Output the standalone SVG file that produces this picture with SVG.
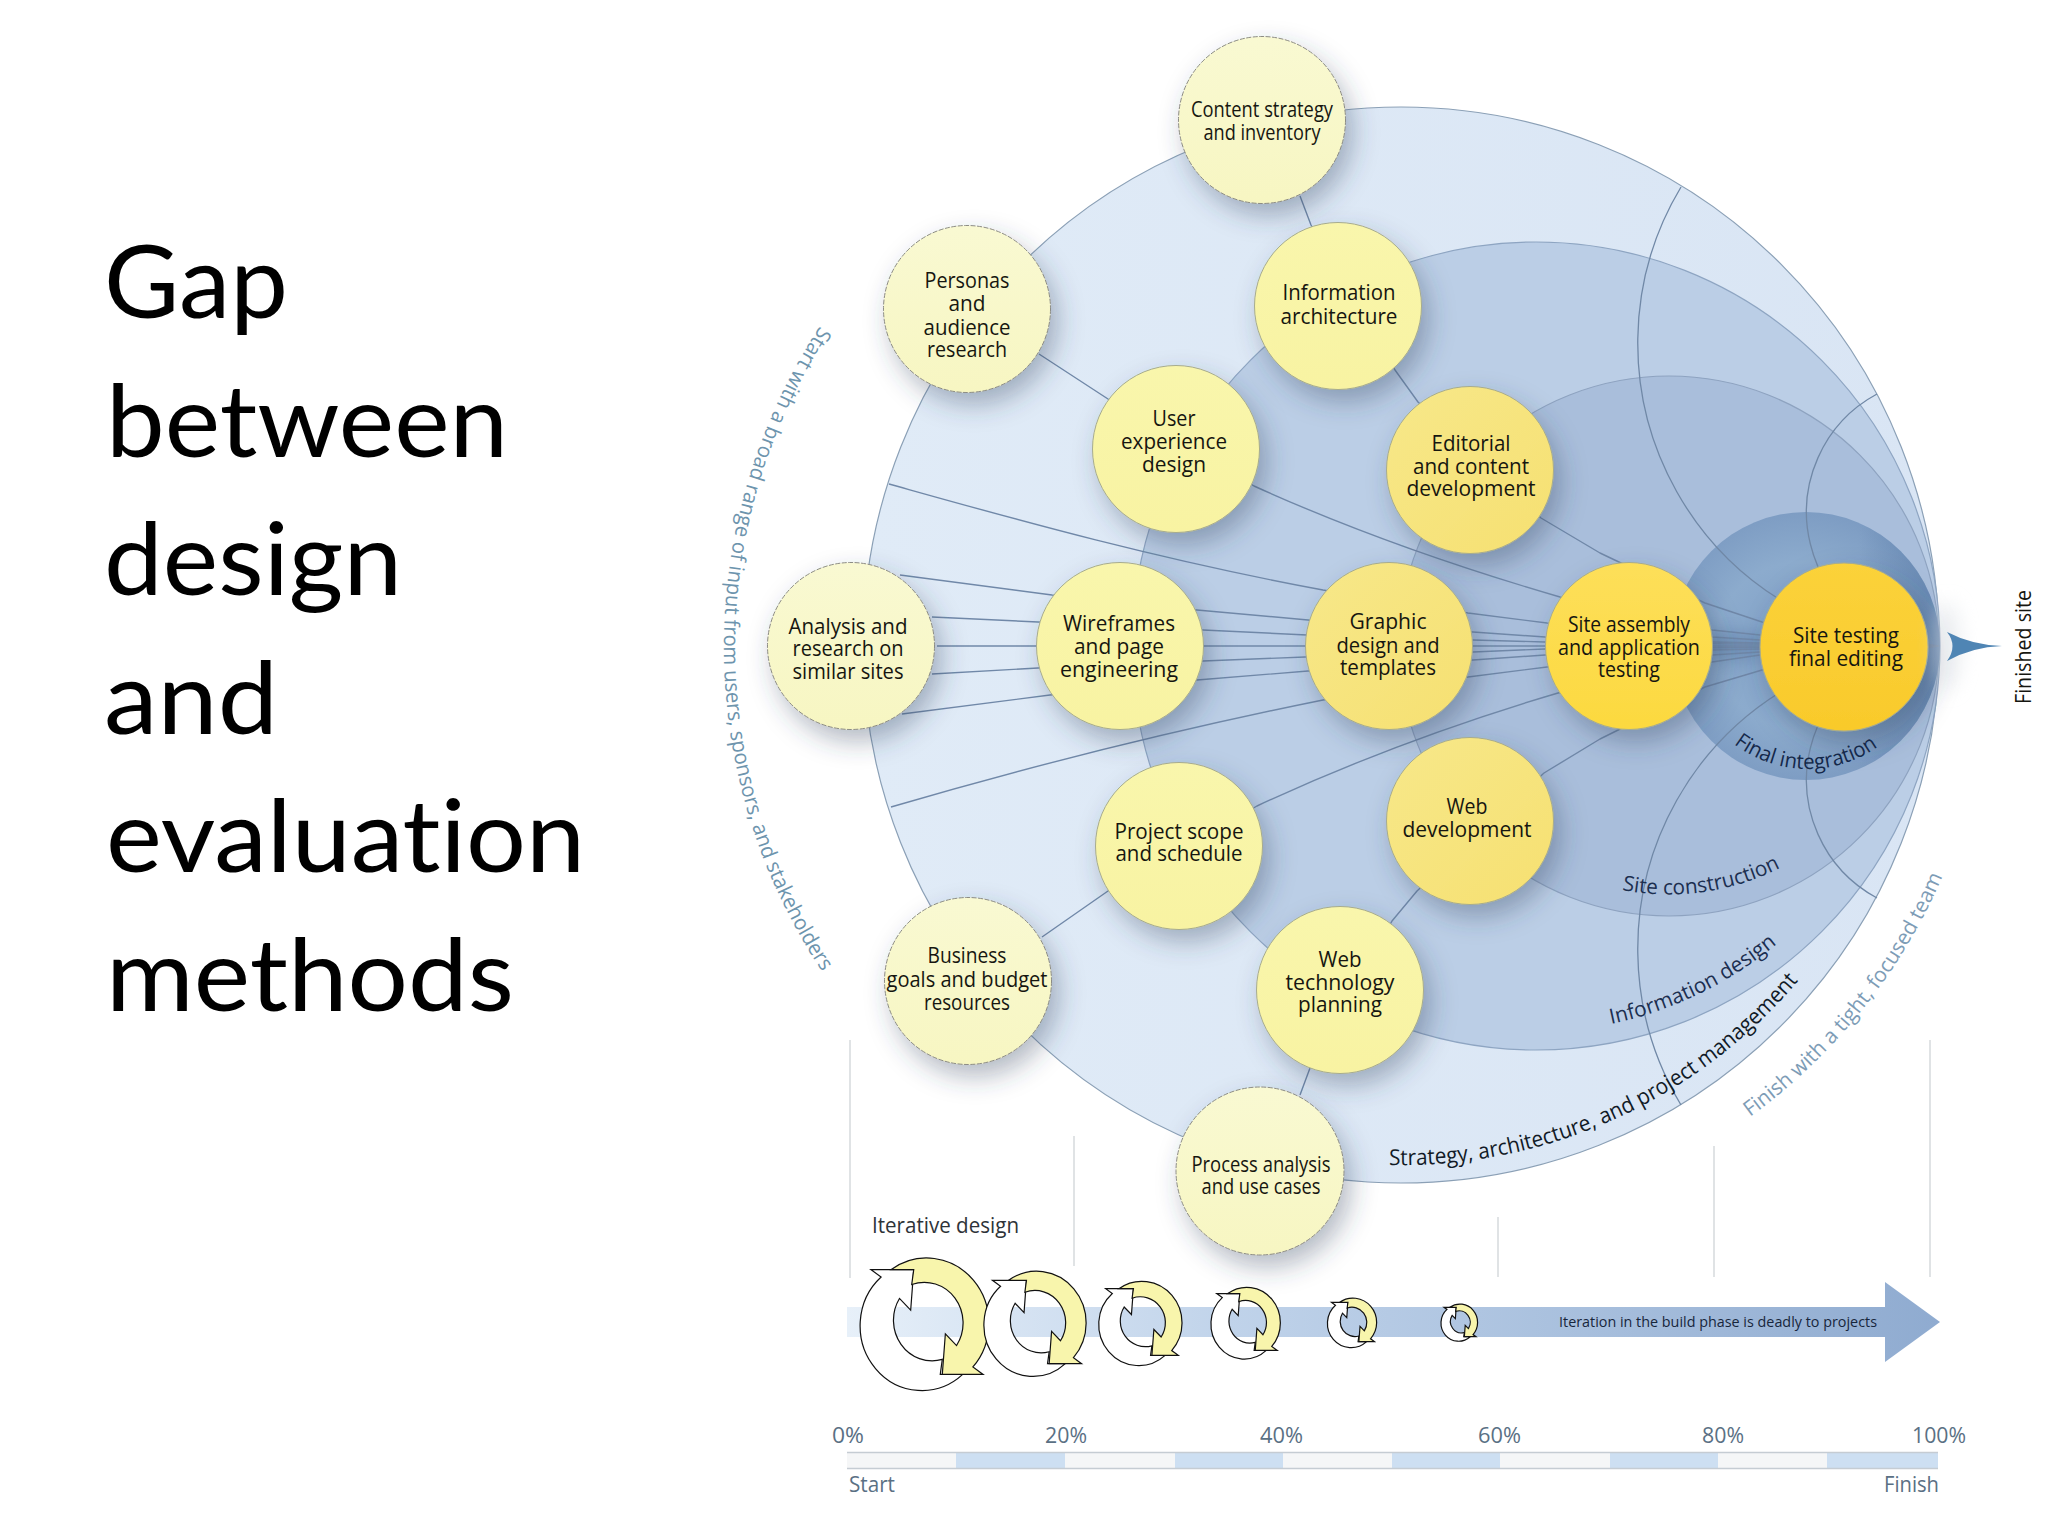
<svg xmlns="http://www.w3.org/2000/svg" width="2048" height="1536" viewBox="0 0 2048 1536">
<style>
.t{font-family:"Lato","Open Sans",sans-serif;font-size:101px;fill:#000;font-variant-ligatures:none}
.n{font-family:"Open Sans","Liberation Sans",sans-serif;font-size:21px;fill:#161610;text-anchor:middle}
.c{font-family:"Open Sans","Liberation Sans",sans-serif;font-size:21px}
.l{font-family:"Open Sans","Liberation Sans",sans-serif;font-size:21px;fill:#5a7084}
.nc{filter:url(#sh);stroke:#a6ab8e;stroke-width:1}
.o{fill:url(#g1);stroke-dasharray:5 1.5;stroke:#8c8c84}
.m{fill:url(#g2)}
.d{fill:url(#g3)}
.link{fill:none;stroke:#7088a8;stroke-width:1.4;stroke-linejoin:round}
.arc{fill:none;stroke:#7088a6;stroke-width:1.3}
.v{stroke:#d6dadd;stroke-width:1.5}
.ya{fill:#f8f5ac;stroke:#111;stroke-width:1.2;vector-effect:non-scaling-stroke}
.wa{fill:#fff;stroke:#111;stroke-width:1.2;vector-effect:non-scaling-stroke}
</style>
<defs>
<filter id="sh" x="-40%" y="-40%" width="190%" height="190%"><feDropShadow dx="7" dy="12" stdDeviation="13" flood-color="#33415e" flood-opacity=".36"/></filter>
<filter id="glow" x="-60%" y="-60%" width="220%" height="220%"><feGaussianBlur stdDeviation="9"/></filter>
<clipPath id="finalclip"><circle cx="1806" cy="646" r="134"/></clipPath>
<linearGradient id="g1" x1="0" y1="0" x2="0" y2="1"><stop offset="0" stop-color="#f9f9d2"/><stop offset="1" stop-color="#f7f6c2"/></linearGradient>
<linearGradient id="g2" x1="0" y1="0" x2="0" y2="1"><stop offset="0" stop-color="#f9f6ac"/><stop offset="1" stop-color="#f8f3a2"/></linearGradient>
<linearGradient id="g3" x1="0" y1="0" x2="1" y2="1"><stop offset="0" stop-color="#f7e88a"/><stop offset="1" stop-color="#f6e071"/></linearGradient>
<linearGradient id="g4" x1="0" y1="0" x2="0" y2="1"><stop offset="0" stop-color="#fddf5a"/><stop offset="1" stop-color="#fcd93f"/></linearGradient>
<linearGradient id="g5" x1="0" y1="0" x2="0" y2="1"><stop offset="0" stop-color="#fbd23a"/><stop offset="1" stop-color="#f9ca2b"/></linearGradient>
<linearGradient id="disk" x1="0" y1="0" x2="1" y2="0"><stop offset="0" stop-color="#e0ebf7"/><stop offset="1" stop-color="#d9e5f4"/></linearGradient>
<radialGradient id="finalg" gradientUnits="userSpaceOnUse" cx="1800" cy="646" r="140"><stop offset="0" stop-color="#7f9fc6"/><stop offset=".6" stop-color="#8cabcd"/><stop offset="1" stop-color="#7c9bc2"/></radialGradient>
<linearGradient id="tip" gradientUnits="userSpaceOnUse" x1="1860" y1="0" x2="1940" y2="0"><stop offset="0" stop-color="#5d80aa" stop-opacity="0"/><stop offset="1" stop-color="#5d80aa" stop-opacity=".7"/></linearGradient>
<linearGradient id="bar" x1="0" y1="0" x2="1" y2="0"><stop offset="0" stop-color="#e7f0f9"/><stop offset=".35" stop-color="#c0d3ea"/><stop offset="1" stop-color="#8fabd0"/></linearGradient>
<g id="loop"><path class="wa" d="M-55,-49 L-13,-49 L-16,-11 L-27,-22 A38,38 0 0 0 15,35 L13,49 L35,49 A60,60 0 0 1 -45,-42 Z"/><path class="ya" d="M55,49 L15,49 L18,11 L29,22 A38,38 0 0 0 -15,-35 L-13,-49 L-35,-49 A61,61 0 0 1 45,42 Z"/></g>
</defs>
<rect width="2048" height="1536" fill="#fff"/>
<g id="title">
<text class="t" x="104" y="318" textLength="184" lengthAdjust="spacingAndGlyphs">Gap</text>
<text class="t" x="106" y="457" textLength="402" lengthAdjust="spacingAndGlyphs">between</text>
<text class="t" x="104" y="595" textLength="298" lengthAdjust="spacingAndGlyphs">design</text>
<text class="t" x="104" y="734" textLength="174" lengthAdjust="spacingAndGlyphs">and</text>
<text class="t" x="106" y="872" textLength="479" lengthAdjust="spacingAndGlyphs">evaluation</text>
<text class="t" x="106" y="1011" textLength="408" lengthAdjust="spacingAndGlyphs">methods</text>
</g>
<g id="phases">
<circle cx="1401" cy="645" r="538" fill="url(#disk)" stroke="#8ba0b6" stroke-width="1.2"/>
<circle cx="1536" cy="646" r="404" fill="#bbcee6" stroke="#8ea5c2" stroke-width="1.2"/>
<circle cx="1669" cy="646" r="270" fill="#a9bedb" stroke="#8ea3c0" stroke-width="1.2"/>
<circle cx="1806" cy="646" r="134" fill="url(#finalg)"/>
<rect x="1860" y="512" width="80" height="268" fill="url(#tip)" clip-path="url(#finalclip)"/>
<ellipse cx="1736" cy="646" rx="42" ry="13" fill="#5e80a8" opacity=".6" filter="url(#glow)"/>
</g>
<g id="arcs">
<path class="arc" d="M1681,187 A303,303 0 0 0 1939,646"/>
<path class="arc" d="M1681,1105 A303,303 0 0 1 1939,646"/>
<path class="arc" d="M1877,394 A134,134 0 0 0 1939,646"/>
<path class="arc" d="M1877,898 A134,134 0 0 1 1939,646"/>
</g>
<g id="connectors">
<path class="link" d="M1300,196 L1311,225 L1395,370 L1418,402 L1541,518 L1600,553 L1705,603 L1762,622 L1939,646"/>
<path class="link" d="M1039,354 L1108,399 L1254,486 C1340,525 1450,565 1560,597 L1712,630 L1760,635 L1939,646"/>
<path class="link" d="M889,484 C1000,515 1150,558 1323,590 L1468,613 L1547,623 L1712,637 L1760,640 L1939,646"/>
<path class="link" d="M900,575 L1052,595 L1197,610 L1308,620 L1473,632 L1545,637 L1712,642 L1760,643 L1939,646"/>
<path class="link" d="M932,617 L1038,622 L1203,630 L1307,635 L1473,640 L1545,642 L1939,646"/>
<path class="link" d="M937,646 L1939,646"/>
<path class="link" d="M932,674 L1038,668 L1203,661 L1305,657 L1473,652 L1545,649 L1939,646"/>
<path class="link" d="M902,714 L1050,695 L1197,680 L1308,671 L1473,660 L1545,655 L1712,650 L1760,649 L1939,646"/>
<path class="link" d="M891,807 C1000,775 1150,735 1323,700 L1468,677 L1547,667 L1712,655 L1760,652 L1939,646"/>
<path class="link" d="M1042,937 L1108,891 L1257,806 C1345,765 1450,725 1558,693 L1712,662 L1760,655 L1939,646"/>
<path class="link" d="M1300,1095 L1310,1068 L1392,921 L1417,891 L1544,773 L1600,739 L1705,687 L1762,670 L1939,646"/>
</g>
<g id="content-strategy"><circle class="nc o" cx="1262" cy="120" r="83.5"/><text class="n" x="1262" y="117" textLength="142" lengthAdjust="spacingAndGlyphs">Content strategy</text><text class="n" x="1262" y="140" textLength="117" lengthAdjust="spacingAndGlyphs">and inventory</text></g>
<g id="personas"><circle class="nc o" cx="967" cy="309" r="83.5"/><text class="n" x="967" y="288" textLength="85" lengthAdjust="spacingAndGlyphs">Personas</text><text class="n" x="967" y="311" textLength="37" lengthAdjust="spacingAndGlyphs">and</text><text class="n" x="967" y="335" textLength="87" lengthAdjust="spacingAndGlyphs">audience</text><text class="n" x="967" y="357" textLength="80" lengthAdjust="spacingAndGlyphs">research</text></g>
<g id="information-architecture"><circle class="nc m" cx="1338" cy="306" r="83.5"/><text class="n" x="1339" y="300" textLength="113" lengthAdjust="spacingAndGlyphs">Information</text><text class="n" x="1339" y="324" textLength="117" lengthAdjust="spacingAndGlyphs">architecture</text></g>
<g id="user-experience"><circle class="nc m" cx="1176" cy="449" r="83.5"/><text class="n" x="1174" y="426" textLength="43" lengthAdjust="spacingAndGlyphs">User</text><text class="n" x="1174" y="449" textLength="106" lengthAdjust="spacingAndGlyphs">experience</text><text class="n" x="1174" y="472" textLength="64" lengthAdjust="spacingAndGlyphs">design</text></g>
<g id="editorial"><circle class="nc d" cx="1470" cy="470" r="83.5"/><text class="n" x="1471" y="451" textLength="79" lengthAdjust="spacingAndGlyphs">Editorial</text><text class="n" x="1471" y="474" textLength="116" lengthAdjust="spacingAndGlyphs">and content</text><text class="n" x="1471" y="496" textLength="129" lengthAdjust="spacingAndGlyphs">development</text></g>
<g id="analysis"><circle class="nc o" cx="851" cy="646" r="83.5"/><text class="n" x="848" y="634" textLength="119" lengthAdjust="spacingAndGlyphs">Analysis and</text><text class="n" x="848" y="656" textLength="111" lengthAdjust="spacingAndGlyphs">research on</text><text class="n" x="848" y="679" textLength="111" lengthAdjust="spacingAndGlyphs">similar sites</text></g>
<g id="wireframes"><circle class="nc m" cx="1120" cy="646" r="83.5"/><text class="n" x="1119" y="631" textLength="112" lengthAdjust="spacingAndGlyphs">Wireframes</text><text class="n" x="1119" y="654" textLength="90" lengthAdjust="spacingAndGlyphs">and page</text><text class="n" x="1119" y="677" textLength="118" lengthAdjust="spacingAndGlyphs">engineering</text></g>
<g id="graphic-design"><circle class="nc d" cx="1389" cy="646" r="83.5"/><text class="n" x="1388" y="629" textLength="77" lengthAdjust="spacingAndGlyphs">Graphic</text><text class="n" x="1388" y="653" textLength="103" lengthAdjust="spacingAndGlyphs">design and</text><text class="n" x="1388" y="675" textLength="96" lengthAdjust="spacingAndGlyphs">templates</text></g>
<g id="site-assembly"><circle class="nc" fill="url(#g4)" cx="1629" cy="646" r="83.5"/><text class="n" x="1629" y="632" textLength="122" lengthAdjust="spacingAndGlyphs">Site assembly</text><text class="n" x="1629" y="655" textLength="142" lengthAdjust="spacingAndGlyphs">and application</text><text class="n" x="1629" y="677" textLength="62" lengthAdjust="spacingAndGlyphs">testing</text></g>
<g id="site-testing"><circle class="nc" fill="url(#g5)" cx="1844" cy="647" r="84"/><text class="n" x="1846" y="643" textLength="106" lengthAdjust="spacingAndGlyphs">Site testing</text><text class="n" x="1846" y="666" textLength="114" lengthAdjust="spacingAndGlyphs">final editing</text></g>
<g id="project-scope"><circle class="nc m" cx="1179" cy="846" r="83.5"/><text class="n" x="1179" y="839" textLength="129" lengthAdjust="spacingAndGlyphs">Project scope</text><text class="n" x="1179" y="861" textLength="127" lengthAdjust="spacingAndGlyphs">and schedule</text></g>
<g id="web-development"><circle class="nc d" cx="1470" cy="821" r="83.5"/><text class="n" x="1467" y="814" textLength="41" lengthAdjust="spacingAndGlyphs">Web</text><text class="n" x="1467" y="837" textLength="129" lengthAdjust="spacingAndGlyphs">development</text></g>
<g id="business-goals"><circle class="nc o" cx="968" cy="981" r="83.5"/><text class="n" x="967" y="963" textLength="79" lengthAdjust="spacingAndGlyphs">Business</text><text class="n" x="967" y="987" textLength="161" lengthAdjust="spacingAndGlyphs">goals and budget</text><text class="n" x="967" y="1010" textLength="86" lengthAdjust="spacingAndGlyphs">resources</text></g>
<g id="web-technology"><circle class="nc m" cx="1340" cy="990" r="83.5"/><text class="n" x="1340" y="967" textLength="43" lengthAdjust="spacingAndGlyphs">Web</text><text class="n" x="1340" y="990" textLength="109" lengthAdjust="spacingAndGlyphs">technology</text><text class="n" x="1340" y="1012" textLength="84" lengthAdjust="spacingAndGlyphs">planning</text></g>
<g id="process-analysis"><circle class="nc o" cx="1260" cy="1171" r="84"/><text class="n" x="1261" y="1172" textLength="139" lengthAdjust="spacingAndGlyphs">Process analysis</text><text class="n" x="1261" y="1194" textLength="119" lengthAdjust="spacingAndGlyphs">and use cases</text></g>
<g id="curved-labels">
<path id="p1" d="M820,326 A585,585 0 0 0 832,986" fill="none"/>
<path id="p2" d="M1750,1117 A586,586 0 0 0 1947,866" fill="none"/>
<path id="p3" d="M1389,1165 A520,520 0 0 0 1803,975" fill="none"/>
<path id="p4" d="M1611,1024 A385,385 0 0 0 1778,943" fill="none"/>
<path id="p5" d="M1622,890 A248,248 0 0 0 1784,866" fill="none"/>
<path id="p6" d="M1734,744 A121,121 0 0 0 1884,742" fill="none"/>
<text class="c" fill="#6d94ad"><textPath href="#p1" textLength="684" lengthAdjust="spacingAndGlyphs">Start with a broad range of input from users, sponsors, and stakeholders</textPath></text>
<text class="c" fill="#7d9cb6"><textPath href="#p2" textLength="312" lengthAdjust="spacingAndGlyphs">Finish with a tight, focused team</textPath></text>
<text class="c" fill="#111a26" style="font-size:22px"><textPath href="#p3" textLength="464" lengthAdjust="spacingAndGlyphs">Strategy, architecture, and project management</textPath></text>
<text class="c" fill="#1c2f50"><textPath href="#p4" textLength="186" lengthAdjust="spacingAndGlyphs">Information design</textPath></text>
<text class="c" fill="#1c2f50"><textPath href="#p5" textLength="163" lengthAdjust="spacingAndGlyphs">Site construction</textPath></text>
<text class="c" fill="#14284a"><textPath href="#p6" textLength="154" lengthAdjust="spacingAndGlyphs">Final integration</textPath></text>
</g>
<g id="finished">
<ellipse cx="1948" cy="646" rx="14" ry="45" fill="#dfe3e8" opacity=".5" filter="url(#glow)"/>
<path d="M1947,632 Q1972,645 2002,646 Q1972,647 1947,661 Q1958,646 1947,632 Z" fill="#4f85b4"/>
<text class="n" transform="translate(2031,647) rotate(-90)" x="0" y="0" textLength="114" lengthAdjust="spacingAndGlyphs">Finished site</text>
</g>
<g id="timeline-guides">
<line class="v" x1="850" y1="1040" x2="850" y2="1278"/>
<line class="v" x1="1074" y1="1136" x2="1074" y2="1266"/>
<line class="v" x1="1498" y1="1217" x2="1498" y2="1277"/>
<line class="v" x1="1714" y1="1146" x2="1714" y2="1277"/>
<line class="v" x1="1930" y1="1040" x2="1930" y2="1277"/>
</g>
<text class="c" x="872" y="1233" fill="#2e3338" textLength="147" lengthAdjust="spacingAndGlyphs">Iterative design</text>
<g id="build-arrow">
<path d="M847,1307 H1885 V1282 L1940,1322 L1885,1362 V1337 H847 Z" fill="url(#bar)"/>
<text class="c" x="1559" y="1327" style="font-size:15px" fill="#17263c" textLength="318" lengthAdjust="spacingAndGlyphs">Iteration in the build phase is deadly to projects</text>
</g>
<g id="iterations">
<use href="#loop" transform="translate(927,1322) scale(1.02,1.07)"/>
<use href="#loop" transform="translate(1037,1322) scale(.81,.85)"/>
<use href="#loop" transform="translate(1142,1322) scale(.66,.68)"/>
<use href="#loop" transform="translate(1247,1322) scale(.55,.58)"/>
<use href="#loop" transform="translate(1353,1322) scale(.39,.4)"/>
<use href="#loop" transform="translate(1460,1322) scale(.29,.3)"/>
</g>
<g id="ruler">
<rect x="847" y="1453" width="109" height="15" fill="#f5f6f7"/><rect x="956" y="1453" width="109" height="15" fill="#cddff2"/>
<rect x="1065" y="1453" width="110" height="15" fill="#f5f6f7"/><rect x="1175" y="1453" width="108" height="15" fill="#cddff2"/>
<rect x="1283" y="1453" width="109" height="15" fill="#f5f6f7"/><rect x="1392" y="1453" width="108" height="15" fill="#cddff2"/>
<rect x="1500" y="1453" width="110" height="15" fill="#f5f6f7"/><rect x="1610" y="1453" width="108" height="15" fill="#cddff2"/>
<rect x="1718" y="1453" width="109" height="15" fill="#f5f6f7"/><rect x="1827" y="1453" width="111" height="15" fill="#cddff2"/>
<path d="M847,1452.5 H1938 M847,1468.5 H1938" stroke="#c5ccd3" stroke-width="1.5" fill="none"/>
<text class="l" x="832" y="1443" textLength="32" lengthAdjust="spacingAndGlyphs">0%</text>
<text class="l" x="1045" y="1443" textLength="42" lengthAdjust="spacingAndGlyphs">20%</text>
<text class="l" x="1260" y="1443" textLength="43" lengthAdjust="spacingAndGlyphs">40%</text>
<text class="l" x="1478" y="1443" textLength="43" lengthAdjust="spacingAndGlyphs">60%</text>
<text class="l" x="1702" y="1443" textLength="42" lengthAdjust="spacingAndGlyphs">80%</text>
<text class="l" x="1912" y="1443" textLength="54" lengthAdjust="spacingAndGlyphs">100%</text>
<text class="l" x="849" y="1492" textLength="46" lengthAdjust="spacingAndGlyphs">Start</text>
<text class="l" x="1884" y="1492" textLength="55" lengthAdjust="spacingAndGlyphs">Finish</text>
</g>
</svg>
